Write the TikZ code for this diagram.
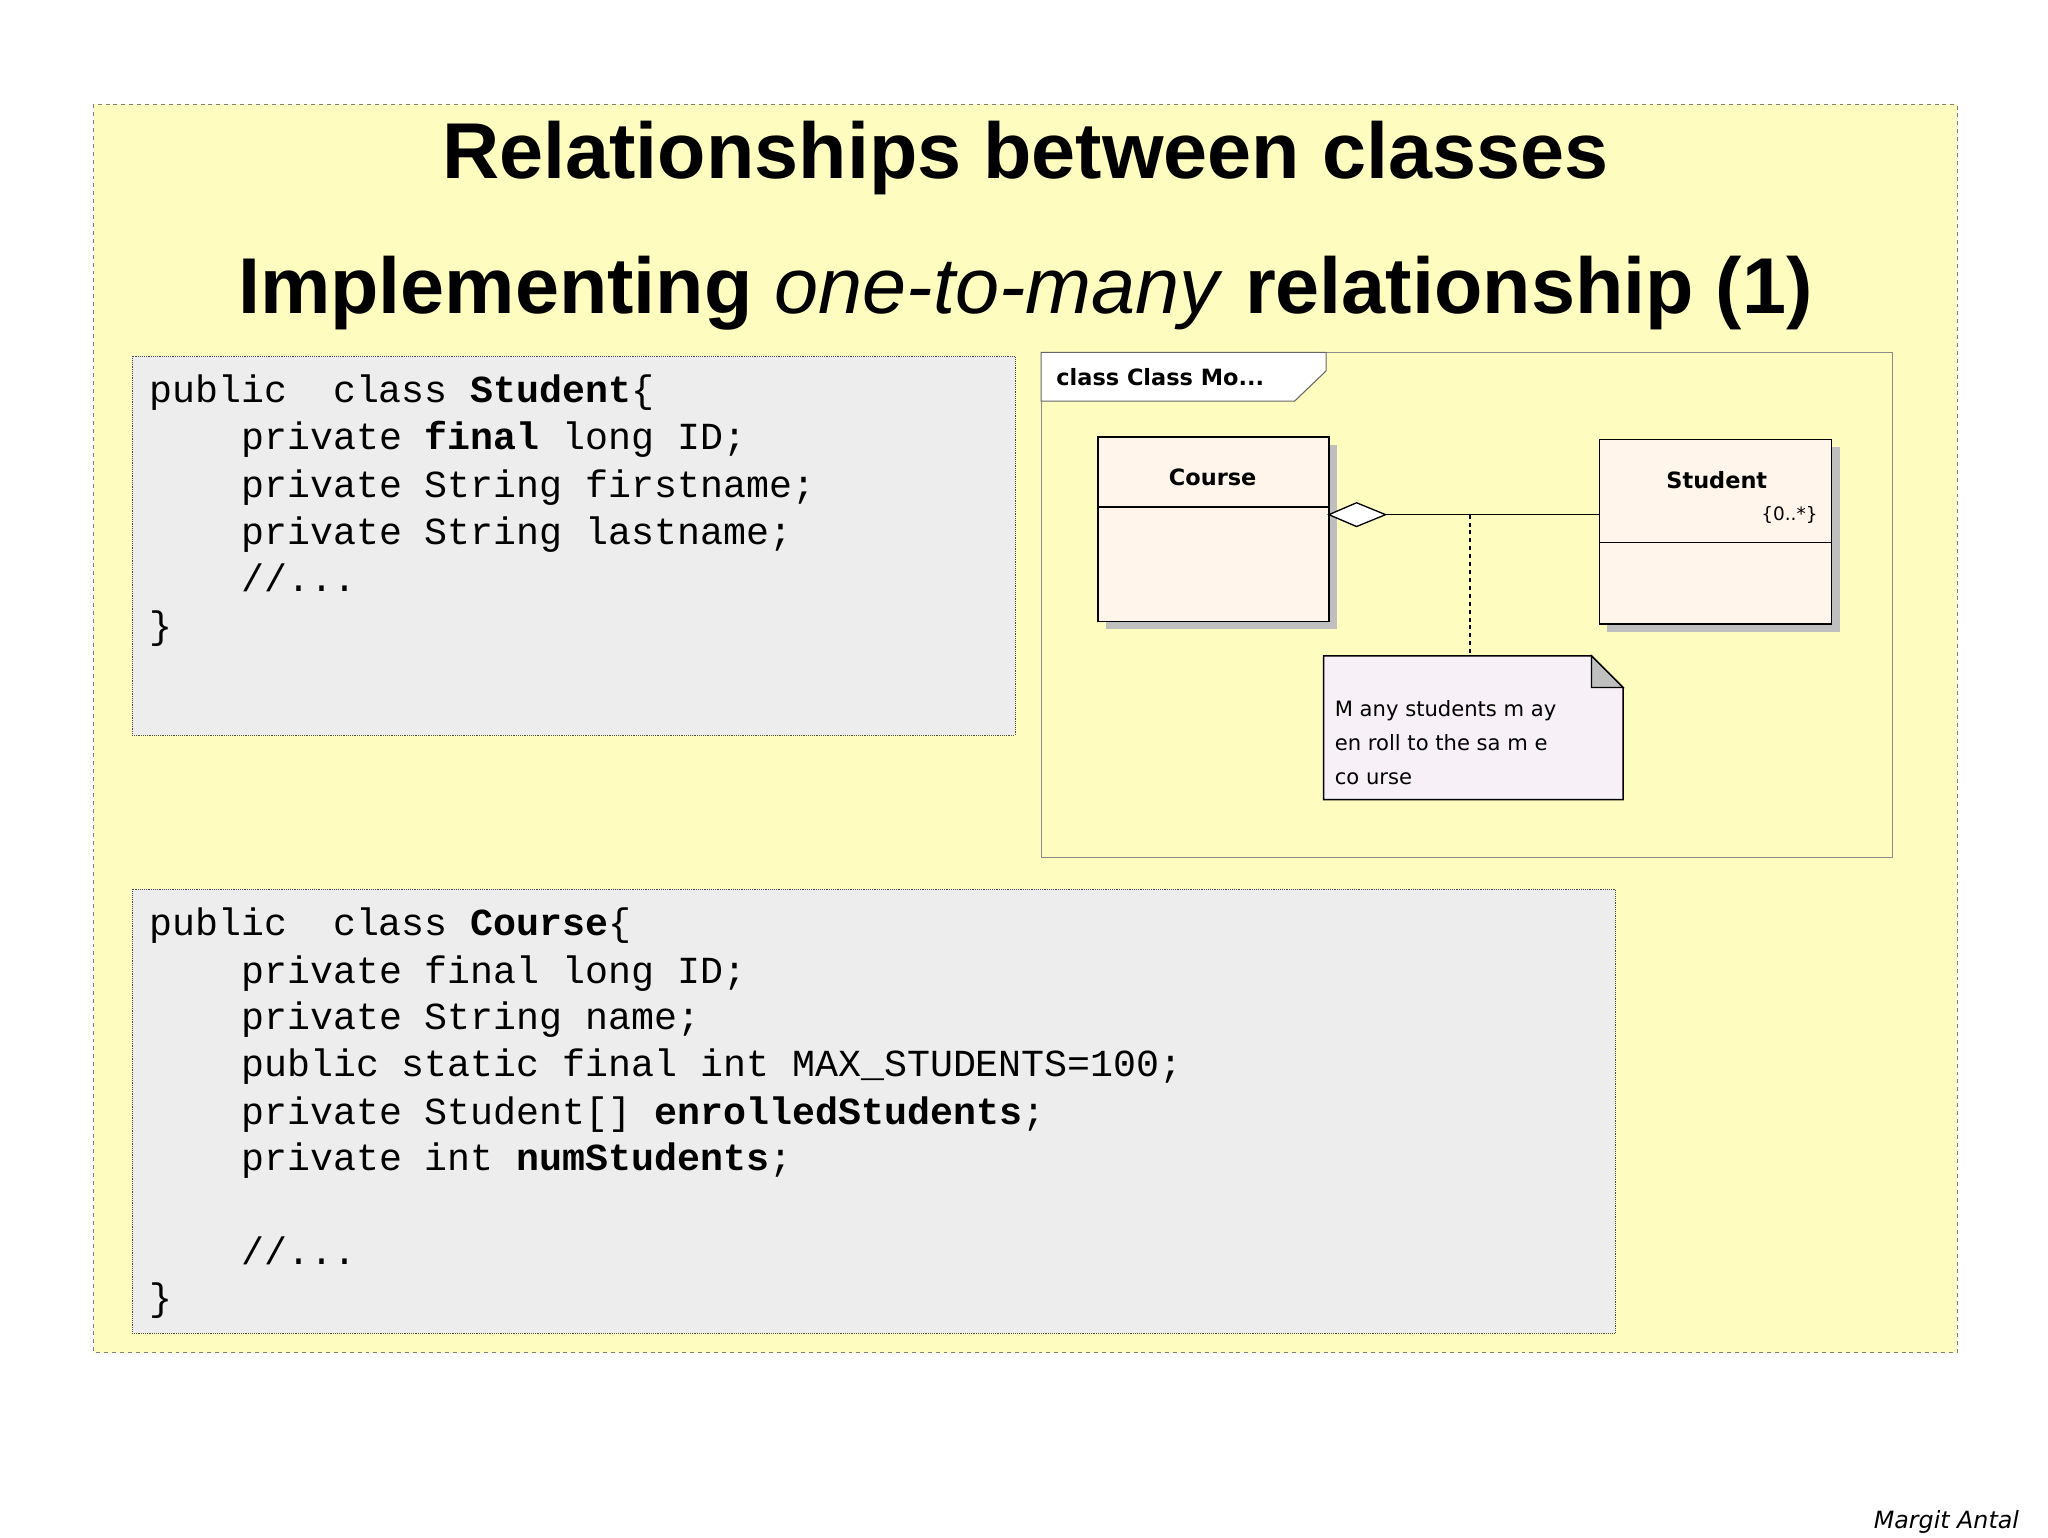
\documentclass[tikz,border=0pt]{standalone}
\usepackage{fontspec}
\setmainfont{Liberation Sans}
\newfontfamily\codefont{Liberation Mono}
\newfontfamily\umlfont{DejaVu Sans}
\begin{document}
\begin{tikzpicture}[x=1pt,y=-1pt,
  codebox/.style={draw=black!70,densely dotted,fill=black!7},
  code/.style={anchor=base west,inner sep=0pt,font=\codefont\fontsize{29}{29}\selectfont},
  umlbox/.style={draw=black,line width=1.2pt,fill=orange!8},
  shadow/.style={fill=black!25,draw=none}]
\useasboundingbox (0,0) rectangle (1552,1165);
\fill[white] (0,0) rectangle (1552,1165);
\draw[black!50,dashed,fill=yellow!25] (71,79) rectangle (1483,1025);
\node[font=\bfseries\fontsize{60}{60}\selectfont] (t1) at (777,120) {Relationships between classes};
\node[font=\bfseries\fontsize{60}{60}\selectfont] (t2) at (777,222) {Implementing \textit{\mdseries one-to-many} relationship (1)};
% code box 1
\draw[codebox] (100,270) rectangle (769,557);
\node[code] (a1) at (113,305) {public\ \ class \textbf{Student}\{};
\node[code] (a2) at (113,341) {\ \ \ \ private \textbf{final} long ID;};
\node[code] (a3) at (113,377) {\ \ \ \ private String firstname;};
\node[code] (a4) at (113,413) {\ \ \ \ private String lastname;};
\node[code] (a5) at (113,448) {\ \ \ \ //...};
\node[code] (a6) at (113,484) {\}};
% code box 2
\draw[codebox] (100,674) rectangle (1224,1010);
\node[code] (b1) at (113,709) {public\ \ class \textbf{Course}\{};
\node[code] (b2) at (113,745) {\ \ \ \ private final long ID;};
\node[code] (b3) at (113,780) {\ \ \ \ private String name;};
\node[code] (b4) at (113,816) {\ \ \ \ public static final int MAX\_STUDENTS=100;};
\node[code] (b5) at (113,852) {\ \ \ \ private Student[] \textbf{enrolledStudents};};
\node[code] (b6) at (113,887) {\ \ \ \ private int \textbf{numStudents};};
\node[code] (b7) at (113,958) {\ \ \ \ //...};
\node[code] (b8) at (113,993) {\}};
% diagram frame
\draw[black!45,line width=0.8pt] (789,267) rectangle (1434,650);
\draw[black!60,line width=0.8pt,fill=white] (789,267) -- (1005,267) -- (1005,281) -- (981,304) -- (789,304) -- cycle;
\node[anchor=west,font=\umlfont\bfseries\fontsize{17}{17}\selectfont] (tab) at (797,286) {class Class Mo...};
% Course
\fill[shadow] (838,337) rectangle (1013,477);
\draw[umlbox] (832,331) rectangle (1007,471);
\draw[line width=1.2pt] (832,384) -- (1007,384);
\node[font=\umlfont\bfseries\fontsize{17}{17}\selectfont] (course) at (919,362) {Course};
\coordinate (cr) at (1007,390);
% Student
\fill[shadow] (1218,339) rectangle (1394,479);
\draw[umlbox] (1212,333) rectangle (1388,473);
\draw[line width=1.2pt] (1212,411) -- (1388,411);
\node[font=\umlfont\bfseries\fontsize{17}{17}\selectfont] (student) at (1301,364) {Student};
\node[font=\umlfont\fontsize{14}{14}\selectfont] (mult) at (1356,390) {\{0..*\}};
\coordinate (sl) at (1212,390);
% association
\coordinate (dm) at (1050,390);
\draw[line width=1pt,fill=white] (cr) -- (1028,381) -- (dm) -- (1028,399) -- cycle;
\draw[line width=1pt] (dm) -- (sl);
\coordinate (mid) at (1114,390);
% note
\draw[line width=1.2pt,fill=violet!6] (1003,497) -- (1206,497) -- (1230,521) -- (1230,606) -- (1003,606) -- cycle;
\draw[line width=1pt,fill=black!25] (1206,497) -- (1206,521) -- (1230,521) -- cycle;
\coordinate (nt) at (1114,497);
\draw[line width=1.2pt,dashed] (mid) -- (nt);
\node[anchor=north west,align=left,font=\umlfont\fontsize{16}{26}\selectfont] (note) at (1008,527) {M any students m ay\\en roll to the sa m e\\co urse};
\node[font=\umlfont\itshape\fontsize{18}{18}\selectfont] (auth) at (1475,1153) {Margit Antal};
\end{tikzpicture}
\end{document}
